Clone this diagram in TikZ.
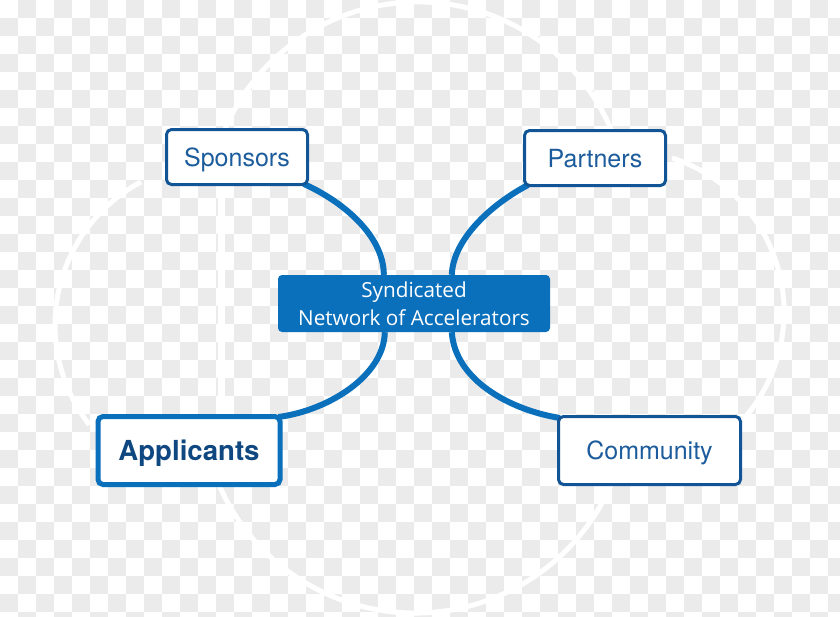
\documentclass[tikz,border=0pt]{standalone}
\usepackage{fontspec}
\setmainfont{TeX Gyre Heros}
\newfontfamily\netfont{Open Sans}
\usetikzlibrary{calc}
\pgfdeclarelayer{bg}
\pgfsetlayers{bg,main}
\definecolor{bordblue}{RGB}{18,85,150}
\definecolor{brightblue}{RGB}{10,112,188}
\definecolor{txtblue}{RGB}{28,92,156}
\definecolor{darktxt}{RGB}{15,72,128}
\definecolor{checkgrey}{RGB}{235,235,235}
\begin{document}
\begin{tikzpicture}[x=1pt,y=-1pt,
  box/.style={draw=bordblue, line width=3pt, rounded corners=5pt, fill=white,
    minimum width=141pt, minimum height=55pt, inner sep=0pt, text=txtblue,
    font=\fontsize{25}{30}\selectfont, text height=18pt, text depth=0pt},
  bigbox/.style={box, minimum width=182pt, minimum height=68pt},
  applbox/.style={bigbox, draw=brightblue, line width=5pt, text=darktxt,
    font=\bfseries\fontsize{27.6}{32}\selectfont, text height=19.8pt},
  netbox/.style={fill=brightblue, rounded corners=4pt, minimum width=272pt,
    minimum height=57pt, inner sep=0pt, text=white, align=center,
    font=\netfont\fontsize{20.7}{28}\selectfont},
  conn/.style={draw=brightblue, line width=6pt},
  halo/.style={draw=white, line width=2.5pt},
  ghost/.style={draw=white, line width=5pt}]
\useasboundingbox (0,0) rectangle (840,616);
\begin{pgfonlayer}{bg}
% checkerboard background
\fill[white] (0,0) rectangle (840,616);
\begin{scope}
\clip (0,0) rectangle (840,616);
\foreach \i in {0,2,...,46}{\foreach \j in {1,3,...,35}{
  \fill[checkgrey] ({18*\i},{18*\j}) rectangle ++(18,18);}}
\foreach \i in {1,3,...,47}{\foreach \j in {0,2,...,34}{
  \fill[checkgrey] ({18*\i},{18*\j}) rectangle ++(18,18);}}
\end{scope}
% faint white circles
\draw[ghost] (418,212) ++(-160:210) arc (-160:-20:210);
\draw[ghost] (217,325) ++(-118:162) arc (-118:-218:162);
\draw[ghost] (622,312) ++(-72:162) arc (-72:44:162);
\draw[ghost] (415,399) ++(157:214) arc (157:23:214);
\draw[ghost, line width=7pt] (221,190) -- (221,412);
\end{pgfonlayer}
% nodes
\node[netbox] (net) at (414,303.5) {Syndicated\\Network of Accelerators};
\node[box] (spon) at (237,157) {Sponsors};
\node[box] (part) at (595,158) {Partners};
\node[applbox] (appl) at (189,450.5) {Applicants};
\node[bigbox] (comm) at (649.5,450.5) {Community};
% anchor points
\coordinate (nTL) at ($(net.north west)+(106,0)$);
\coordinate (nTR) at ($(net.north west)+(174,0)$);
\coordinate (nBL) at ($(net.south west)+(107,0)$);
\coordinate (nBR) at ($(net.south west)+(174,0)$);
\coordinate (sE) at ($(spon.south east)+(-5,-2)$);
\coordinate (pE) at ($(part.south west)+(5,-2)$);
\coordinate (aE) at ($(appl.north east)+(-4,3)$);
\coordinate (cE) at ($(comm.north west)+(3,3)$);
\begin{pgfonlayer}{bg}
% white halos
\draw[halo, xshift=5pt] (sE) .. controls (350,205) and (384,240) .. (nTL);
\draw[halo, xshift=5pt] (nBR) .. controls (455,380) and (510,410) .. (cE);
% connectors
\draw[conn] (sE) .. controls (350,205) and (384,240) .. (nTL);
\draw[conn] (pE) .. controls (490,205) and (453,240) .. (nTR);
\draw[conn] (nBL) .. controls (384,375) and (330,410) .. (aE);
\draw[conn] (nBR) .. controls (455,380) and (510,410) .. (cE);
\end{pgfonlayer}
\end{tikzpicture}
\end{document}
